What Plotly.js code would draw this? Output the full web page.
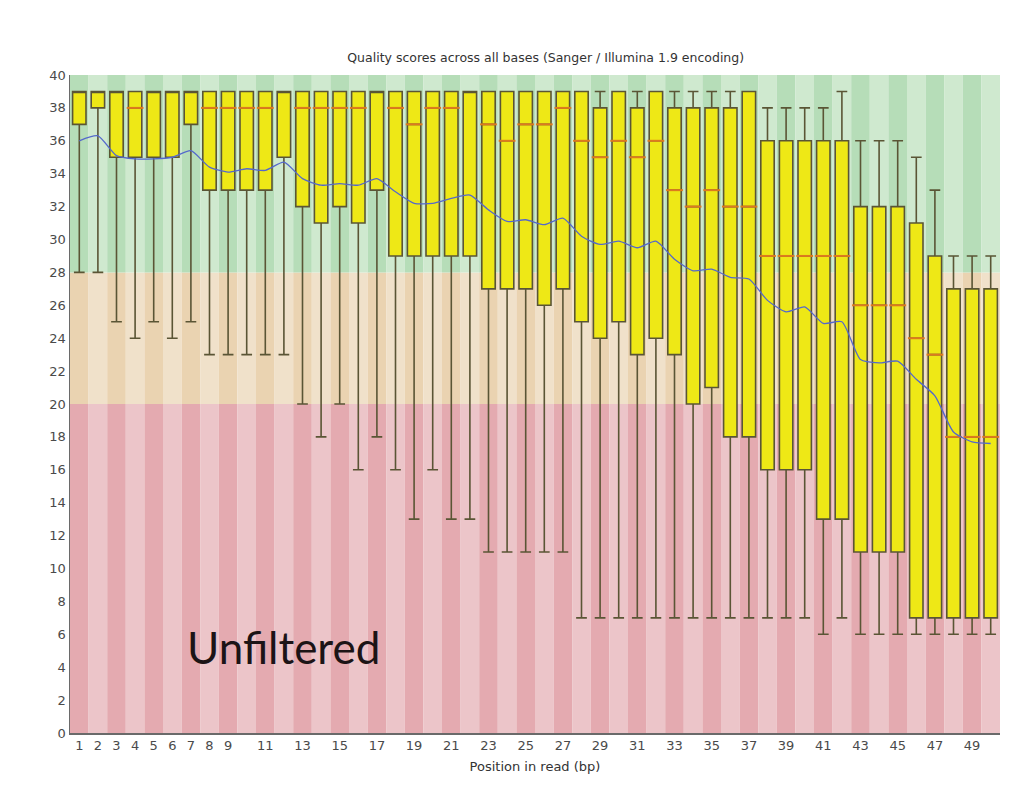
<!DOCTYPE html>
<html>
<head>
<meta charset="utf-8">
<script src="https://cdn.plot.ly/plotly-3.0.1.min.js"></script>
<style>html,body{margin:0;padding:0;background:#fff;}#chart{width:1020px;height:785px;}</style>
</head>
<body>
<div id="chart"></div>
<script>
// Position in read (bp)
const positions = [1,2,3,4,5,6,7,8,9,10,11,12,13,14,15,16,17,18,19,20,21,22,23,24,25,26,27,28,29,30,31,32,33,34,35,36,37,38,39,40,41,42,43,44,45,46,47,48,49,50];
// Box statistics (quality scores)
const lowerWhisker = [28,28,25,24,25,24,25,23,23,23,23,23,20,18,20,16,18,16,13,16,13,13,11,11,11,11,11,7,7,7,7,7,7,7,7,7,7,7,7,7,6,7,6,6,6,6,6,6,6,6];
const lowerQuartile = [37,38,35,35,35,35,37,33,33,33,33,35,32,31,32,31,33,29,29,29,29,29,27,27,27,26,27,25,24,25,23,24,23,20,21,18,18,16,16,16,13,13,11,11,11,7,7,7,7,7];
const medianScore = [39,39,39,38,39,39,39,38,38,38,38,39,38,38,38,38,39,38,37,38,38,39,37,36,37,37,38,36,35,36,35,36,33,32,33,32,32,29,29,29,29,29,26,26,26,24,23,18,18,18];
const upperQuartile = [39,39,39,39,39,39,39,39,39,39,39,39,39,39,39,39,39,39,39,39,39,39,39,39,39,39,39,39,38,39,38,39,38,38,38,38,39,36,36,36,36,36,32,32,32,31,29,27,27,27];
const upperWhisker = [39,39,39,39,39,39,39,39,39,39,39,39,39,39,39,39,39,39,39,39,39,39,39,39,39,39,39,39,39,39,39,39,39,39,39,39,39,38,38,38,38,39,36,36,36,35,33,29,29,29];
const meanScore = [36.0,36.3,35.1,34.9,34.9,35.0,35.4,34.4,34.1,34.3,34.2,34.7,33.7,33.3,33.4,33.3,33.7,32.9,32.2,32.2,32.5,32.7,31.8,31.1,31.2,30.9,31.3,30.2,29.7,29.9,29.5,29.9,28.8,28.1,28.2,27.7,27.6,26.3,25.6,25.9,24.9,25.0,22.7,22.5,22.6,21.5,20.5,18.3,17.7,17.6];
// X tick labels
const tickPositions = [1,2,3,4,5,6,7,8,9,11,13,15,17,19,21,23,25,27,29,31,33,35,37,39,41,43,45,47,49];
const tickLabels = ["1","2","3","4","5","6","7","8","9","11","13","15","17","19","21","23","25","27","29","31","33","35","37","39","41","43","45","47","49"];
// Quality zones (poor / reasonable / good)
const zoneBounds = [0, 20, 28, 40];
const zoneDark = ["#e4aab0", "#ead3b1", "#b6ddb8"];
const zoneLight = ["#ecc5c9", "#f0e1ca", "#cfe9cf"];

const shapes = [];
positions.forEach(function(p){
  for (let z = 0; z < 3; z++) {
    shapes.push({
      type: "rect", layer: "below", xref: "x", yref: "y",
      x0: p - 0.5, x1: p + 0.5, y0: zoneBounds[z], y1: zoneBounds[z+1],
      fillcolor: (p % 2 === 1) ? zoneDark[z] : zoneLight[z],
      line: {width: 0}
    });
  }
});

// median line is hidden by the box outline when it coincides with the upper quartile
const medianVisible = medianScore.map(function(m, i){ return m < upperQuartile[i] ? m : null; });

const boxTrace = {
  type: "box",
  x: positions,
  q1: lowerQuartile,
  median: medianScore,
  q3: upperQuartile,
  lowerfence: lowerWhisker,
  upperfence: upperWhisker,
  width: 0.72,
  whiskerwidth: 0.8,
  fillcolor: "#eee816",
  line: {color: "#5a5535", width: 1.6},
  boxpoints: false,
  hoverinfo: "skip",
  showlegend: false
};

const medianTrace = {
  type: "scatter",
  mode: "markers",
  x: positions,
  y: medianVisible,
  marker: {symbol: "line-ew", size: 12, color: "#dd7a1e", line: {color: "#dd7a1e", width: 2}},
  hoverinfo: "skip",
  showlegend: false
};

const meanTrace = {
  type: "scatter",
  mode: "lines",
  x: positions,
  y: meanScore,
  line: {color: "#5468cc", width: 1.3, shape: "spline", smoothing: 0.6},
  hoverinfo: "skip",
  showlegend: false
};

const tickFont = {family: "DejaVu Sans", size: 13, color: "#4a4a4a"};

const layout = {
  width: 1020, height: 785,
  margin: {l: 70, r: 20, t: 75, b: 52},
  paper_bgcolor: "#ffffff",
  plot_bgcolor: "#ffffff",
  showlegend: false,
  title: {
    text: "Quality scores across all bases (Sanger / Illumina 1.9 encoding)",
    font: {family: "DejaVu Sans", size: 12.5, color: "#333333"},
    xref: "container", x: 0.535, xanchor: "center",
    yref: "container", y: 0.927, yanchor: "middle"
  },
  xaxis: {
    range: [0.5, 50.5],
    tickmode: "array", tickvals: tickPositions, ticktext: tickLabels,
    tickfont: tickFont, ticks: "", showgrid: false, zeroline: false,
    showline: true, linecolor: "#6a6a6a", linewidth: 1.5,
    title: {text: "Position in read (bp)", font: {family: "DejaVu Sans", size: 13, color: "#333333"}, standoff: 10},
    automargin: false
  },
  yaxis: {
    range: [0, 40], dtick: 2, tick0: 0,
    tickfont: tickFont, ticks: "", showgrid: false, zeroline: false,
    showline: true, linecolor: "#6a6a6a", linewidth: 1.5,
    automargin: false
  },
  shapes: shapes,
  annotations: [{
    text: "Unfiltered",
    xref: "x", yref: "y", x: 6.68, y: 5.2,
    xanchor: "left", yanchor: "middle",
    showarrow: false,
    font: {family: "Lato", size: 44, color: "#1c1416"}
  }]
};

Plotly.newPlot("chart", [boxTrace, medianTrace, meanTrace], layout, {staticPlot: true, displayModeBar: false});
</script>
</body>
</html>
